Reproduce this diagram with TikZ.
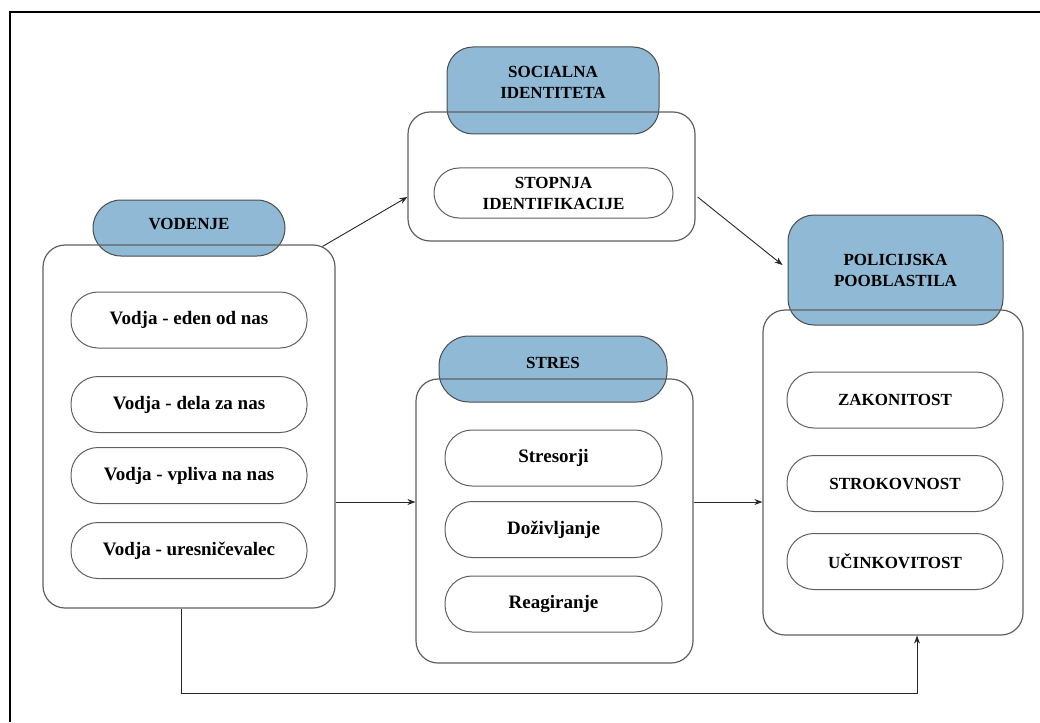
\documentclass[tikz,border=0pt]{standalone}
\usepackage{fontspec}
\setmainfont{Liberation Serif}
\usetikzlibrary{arrows.meta,calc}
\definecolor{headblue}{RGB}{143,185,212}
\definecolor{boxgray}{RGB}{95,95,95}
\tikzset{
  x=1pt, y=-1pt,
  container/.style={draw=boxgray, line width=1.2pt, rounded corners=22pt, inner sep=0pt},
  header/.style={draw=boxgray!80!black, fill=headblue, line width=1pt, inner sep=0pt,
    align=center, font=\bfseries\fontsize{17}{21}\selectfont},
  pill/.style={draw=boxgray, line width=1pt, rounded corners=27pt, inner sep=0pt,
    align=center},
  capstext/.style={font=\bfseries\fontsize{17}{21}\selectfont},
  lowtext/.style={font=\bfseries\fontsize{19}{22}\selectfont},
  arr/.style={draw=black!85, line width=0.9pt, -{Stealth[length=8pt,width=6pt]}},
}
\begin{document}
\begin{tikzpicture}
\useasboundingbox (0,0) rectangle (1040,722);
% page frame (open towards right and bottom)
\draw[line width=2pt] (9.5,722) -- (9.5,12.5) -- (1040,12.5);

% ---- VODENJE ----
\node[header, rounded corners=28pt, minimum width=192pt, minimum height=56pt, text depth=8pt] (vodhead) at (189,228) {VODENJE};
\node[container, minimum width=292pt, minimum height=363pt] (vodbox) at (189,426.5) {};
\node[pill, lowtext, minimum width=236pt, minimum height=56pt] (v1) at (189,320) {Vodja - eden od nas};
\node[pill, lowtext, minimum width=236pt, minimum height=56pt] (v2) at (189,404.5) {Vodja - dela za nas};
\node[pill, lowtext, minimum width=236pt, minimum height=56pt] (v3) at (189,475.5) {Vodja - vpliva na nas};
\node[pill, lowtext, minimum width=236pt, minimum height=56pt] (v4) at (189,550.5) {Vodja - uresničevalec};

% ---- SOCIALNA IDENTITETA ----
\node[header, rounded corners=26pt, minimum width=212pt, minimum height=87pt, text depth=16pt] (sochead) at (553,90.5) {SOCIALNA\\IDENTITETA};
\node[container, minimum width=287pt, minimum height=129pt] (socbox) at (551.5,176.5) {};
\node[pill, capstext, minimum width=239pt, minimum height=50pt, rounded corners=25pt] (s1) at (553.5,193) {STOPNJA\\IDENTIFIKACIJE};

% ---- STRES ----
\node[header, rounded corners=30pt, minimum width=228pt, minimum height=66pt, text depth=12pt] (strhead) at (553,369) {STRES};
\node[container, minimum width=277pt, minimum height=284pt] (strbox) at (554.5,521) {};
\node[pill, lowtext, minimum width=217pt, minimum height=56pt] (t1) at (553.5,458) {Stresorji};
\node[pill, lowtext, minimum width=217pt, minimum height=56pt] (t2) at (553.5,529.5) {Doživljanje};
\node[pill, lowtext, minimum width=217pt, minimum height=56pt] (t3) at (553.5,604) {Reagiranje};

% ---- POLICIJSKA POOBLASTILA ----
\node[header, rounded corners=26pt, minimum width=215pt, minimum height=110pt] (polhead) at (895.5,270) {POLICIJSKA\\POOBLASTILA};
\node[container, minimum width=260pt, minimum height=325pt] (polbox) at (893,472.5) {};
\node[pill, capstext, minimum width=216pt, minimum height=56pt] (p1) at (895,400) {ZAKONITOST};
\node[pill, capstext, minimum width=216pt, minimum height=56pt] (p2) at (895,483.5) {STROKOVNOST};
\node[pill, capstext, minimum width=216pt, minimum height=56pt] (p3) at (895,561.5) {UČINKOVITOST};

% ---- connectors ----
\coordinate (midrow) at (0,502);
\coordinate (loopx) at (181,0);
\coordinate (loopy) at (0,693);
\coordinate (polin) at (917,0);

\draw[arr] ([shift={(-13,2)}]vodbox.north east) -- ([shift={(0,20.5)}]socbox.west);
\draw[arr] ([shift={(2,20.5)}]socbox.east) -- ([shift={(-5,-5)}]polhead.west);
\draw[arr] (vodbox.east |- midrow) -- (strbox.west |- midrow);
\draw[arr] (strbox.east |- midrow) -- (polbox.west |- midrow);
\draw[arr] (vodbox.south -| loopx) -- (loopx |- loopy) -- (polin |- loopy) -- (polin |- polbox.south);
\end{tikzpicture}
\end{document}
